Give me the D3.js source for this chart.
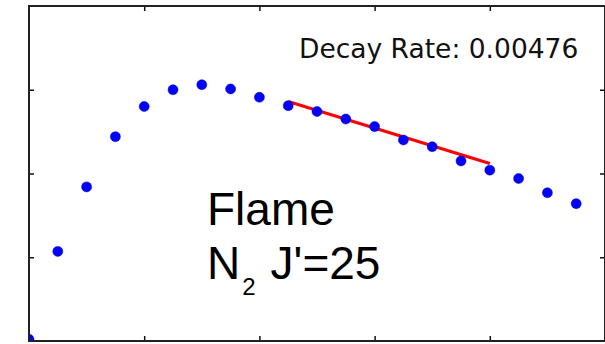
<!DOCTYPE html>
<html>
<head>
<meta charset="utf-8">
<script src="https://cdn.jsdelivr.net/npm/d3@7"></script>
<style>
  body { margin: 0; background: #fff; }
  svg { display: block; }
</style>
</head>
<body>
<div id="chart"></div>
<script>
// data (x index, normalised population)
const xValues = [0, 1, 2, 3, 4, 5, 6, 7, 8, 9, 10, 11, 12, 13, 14, 15, 16, 17, 18, 19];
const yValues = [0.02, 1.07, 1.84, 2.44, 2.80, 3.00, 3.06, 3.01, 2.91, 2.81, 2.74, 2.65, 2.56, 2.40, 2.32, 2.15, 2.04, 1.94, 1.77, 1.64];
const fitX = [9, 16];
const fitY = [2.86, 2.12];
const xTicks = [4, 8, 12, 16];
const yTicks = [1, 2, 3];
const rateLabel = "Decay Rate: 0.00476";

const W = 605, H = 344;
const margin = {top: 6, right: 0, bottom: 3, left: 29};
const w = W - margin.left - margin.right;
const h = H - margin.top - margin.bottom;

const svg = d3.select("#chart")
    .append("svg")
    .attr("width", W)
    .attr("height", H);

const g = svg.append("g")
    .attr("transform", `translate(${margin.left},${margin.top})`);

const x = d3.scaleLinear().domain([0, 20]).range([0, w]);
const y = d3.scaleLinear().domain([0, 4]).range([h, 0]);

g.append("clipPath").attr("id", "plotclip")
    .append("rect").attr("width", w).attr("height", h);

const plot = g.append("g").attr("clip-path", "url(#plotclip)");

// red fit line
plot.append("line")
    .attr("x1", x(fitX[0])).attr("y1", y(fitY[0]))
    .attr("x2", x(fitX[1])).attr("y2", y(fitY[1]))
    .style("stroke", "#f00")
    .style("stroke-width", 3);

plot.selectAll("circle")
    .data(xValues.map((d, i) => ({x: d, y: yValues[i]})))
    .join("circle")
    .attr("cx", d => x(d.x))
    .attr("cy", d => y(d.y))
    .attr("r", 5)
    .style("fill", "#0000ff")
    .style("stroke", "#0000bb")
    .style("stroke-width", 0.5);

// ticks point inward on all four sides
const noLabel = () => "";
g.append("g").attr("transform", `translate(0,${h})`)
    .call(d3.axisBottom(x).tickValues(xTicks).tickSize(-5).tickFormat(noLabel));
g.append("g")
    .call(d3.axisTop(x).tickValues(xTicks).tickSize(-5).tickFormat(noLabel));
g.append("g")
    .call(d3.axisLeft(y).tickValues(yTicks).tickSize(-5).tickFormat(noLabel));
g.append("g").attr("transform", `translate(${w},0)`)
    .call(d3.axisRight(y).tickValues(yTicks).tickSize(-5).tickFormat(noLabel));

g.selectAll(".domain").remove();
g.selectAll(".tick line").style("stroke", "#111").style("stroke-width", 1.5);

g.append("rect")
    .attr("width", w).attr("height", h)
    .style("fill", "none")
    .style("stroke", "#222")
    .style("stroke-width", 2);

// labels
svg.append("text")
    .attr("x", 299).attr("y", 58)
    .style("font-family", "DejaVu Sans")
    .style("font-size", "26.5px")
    .style("fill", "#111")
    .text(rateLabel);

const big = svg.append("g")
    .style("font-family", "Liberation Sans")
    .style("fill", "#000");

big.append("text")
    .attr("x", 207).attr("y", 225)
    .style("font-size", "46px")
    .text("Flame");

const n2 = big.append("text")
    .attr("x", 207).attr("y", 279)
    .style("font-size", "46px");
n2.append("tspan").text("N");
n2.append("tspan")
    .attr("dy", 16).attr("dx", 2).style("font-size", "24px").text("2");
n2.append("tspan")
    .attr("dy", -16).attr("dx", 15).text("J'=25");
</script>
</body>
</html>
